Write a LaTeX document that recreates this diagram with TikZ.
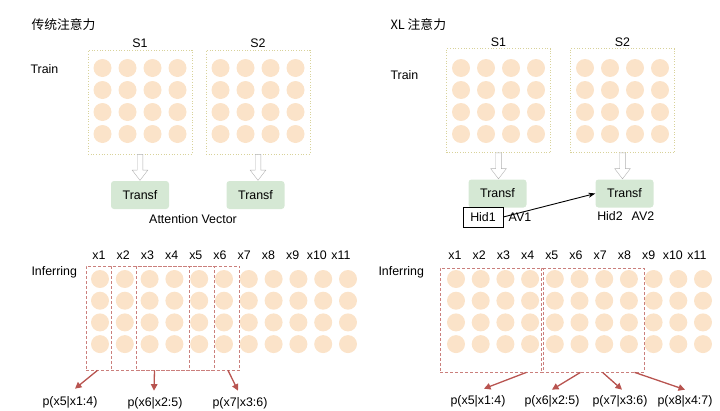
\documentclass[tikz,border=0pt]{standalone}
\usepackage{fontspec}
\setmainfont{Liberation Sans}
\setsansfont{Liberation Sans}
\newfontfamily\cjk{Noto Sans CJK SC}
\usetikzlibrary{arrows.meta,shapes.arrows,positioning}
\definecolor{peach}{HTML}{FBE3C9}
\definecolor{khaki}{HTML}{D8D29A}
\definecolor{mint}{HTML}{D5E8D4}
\definecolor{brick}{HTML}{B85450}

\begin{document}
\begin{tikzpicture}[x=1pt, y=-1pt, font=\fontsize{12.4}{14}\selectfont,
    dot/.style={fill=peach},
    trainbox/.style={draw=khaki, dotted, line width=0.7pt, minimum width=104pt, minimum height=104pt},
    transf/.style={fill=mint, rounded corners=3pt, minimum width=58pt, minimum height=28pt},
    blockarrow/.style={single arrow, draw=gray!60, fill=white, rotate=-90, anchor=tail, minimum height=26pt,
      inner sep=2.6pt, single arrow head extend=5pt, single arrow tip angle=75, outer sep=0pt},
    winbox/.style={draw=brick!75, dash pattern=on 3pt off 2pt, line width=0.7pt, minimum width=103pt, minimum height=104pt},
    parrow/.style={-{Triangle[length=6.5pt,width=6.5pt]}, brick, line width=1.3pt}]
  \useasboundingbox (0,0) rectangle (720,410);

  % titles
  \node[anchor=west, font=\cjk\fontsize{12.8}{14}\selectfont] (title1) at (28,25) {传统注意力};
  \node[anchor=west, font=\cjk\fontsize{12.8}{14}\selectfont] (title2) at (387,25) {XL 注意力};

  % training segments
  \foreach \cx in {140,258,498.5,622.5}
    \foreach \i in {0,...,3}
      \foreach \j in {0,...,3}
        \fill[dot] (\cx-37.5+25*\i, 68+22*\j) circle (9);
  \node[trainbox] (L1) at (140,102) {};
  \node[trainbox] (L2) at (258,102) {};
  \node[trainbox] (R1) at (498.5,100.5) {};
  \node[trainbox] (R2) at (622.5,100.5) {};
  \node[above=-2pt of L1] (s1a) {S1};
  \node[above=-2pt of L2] (s2a) {S2};
  \node[above=-2pt of R1] (s1b) {S1};
  \node[above=-2pt of R2] (s2b) {S2};
  \node[anchor=west] (train1) at (27,69) {Train};
  \node[anchor=west] (train2) at (387,75) {Train};

  % transformer blocks
  \node[transf] (t1) at (140,195) {Transf};
  \node[transf] (t2) at (255.5,195) {Transf};
  \node[transf] (t3) at (497.5,193.5) {Transf};
  \node[transf] (t4) at (624.5,193.5) {Transf};
  \node[blockarrow] (ba1) at (L1.south) {};
  \node[blockarrow] (ba2) at (L2.south) {};
  \node[blockarrow] (ba3) at (R1.south) {};
  \node[blockarrow] (ba4) at (R2.south) {};
  \node (attvec) at (193,219) {Attention Vector};
  \node[draw, minimum width=40pt, minimum height=20pt, inner sep=1pt] (hid1) at (483,217) {Hid1};
  \node (av1) at (520,217) {AV1};
  \node (hid2) at (610,216) {Hid2};
  \node (av2) at (643,216) {AV2};
  \draw[-{Stealth[length=7pt,width=5pt]}, line width=0.9pt] (hid1.east) -- (t4.west);

  % inference
  \node[anchor=west] (inf1) at (28,272) {Inferring};
  \node[anchor=west] (inf2) at (375,272) {Inferring};
  \foreach \i in {1,...,11} {
    \node at (99+24.2*\i-24.2, 255) {x\i};
    \node at (455+24.2*\i-24.2, 255) {x\i};
    \foreach \j in {0,...,3} {
      \fill[dot] (100+24.8*\i-24.8, 279+21.7*\j) circle (9);
      \fill[dot] (456+24.7*\i-24.7, 279+21.7*\j) circle (9);
    }
  }
  \node[winbox] (w1) at (137.5,318) {};
  \node[winbox] (w2) at (162.5,318) {};
  \node[winbox] (w3) at (188,318) {};
  \node[winbox] (v1) at (491.5,320) {};
  \node[winbox] (v2) at (592.5,320) {};

  \node (p1) at (70,402) {p(x5|x1:4)};
  \node (p2) at (155,403) {p(x6|x2:5)};
  \node (p3) at (240,403) {p(x7|x3:6)};
  \node (q1) at (478,401) {p(x5|x1:4)};
  \node (q2) at (552,401) {p(x6|x2:5)};
  \node (q3) at (620,401) {p(x7|x3:6)};
  \node (q4) at (685,401) {p(x8|x4:7)};

  \draw[parrow] ([xshift=-40pt]w1.south) -- ([xshift=5pt,yshift=4pt]p1.north);
  \draw[parrow] ([xshift=-8pt]w2.south) -- ([xshift=-1pt,yshift=3pt]p2.north);
  \draw[parrow] ([xshift=40pt]w3.south) -- ([xshift=-2pt,yshift=3pt]p3.north);
  \draw[parrow] ([xshift=35pt]v1.south) -- ([xshift=6pt,yshift=3pt]q1.north);
  \draw[parrow] ([xshift=-12pt]v2.south) -- ([yshift=2pt]q2.north);
  \draw[parrow] ([xshift=10pt]v2.south) -- ([xshift=2pt,yshift=2pt]q3.north);
  \draw[parrow] ([xshift=42pt]v2.south) -- ([yshift=2pt]q4.north);
\end{tikzpicture}
\end{document}
